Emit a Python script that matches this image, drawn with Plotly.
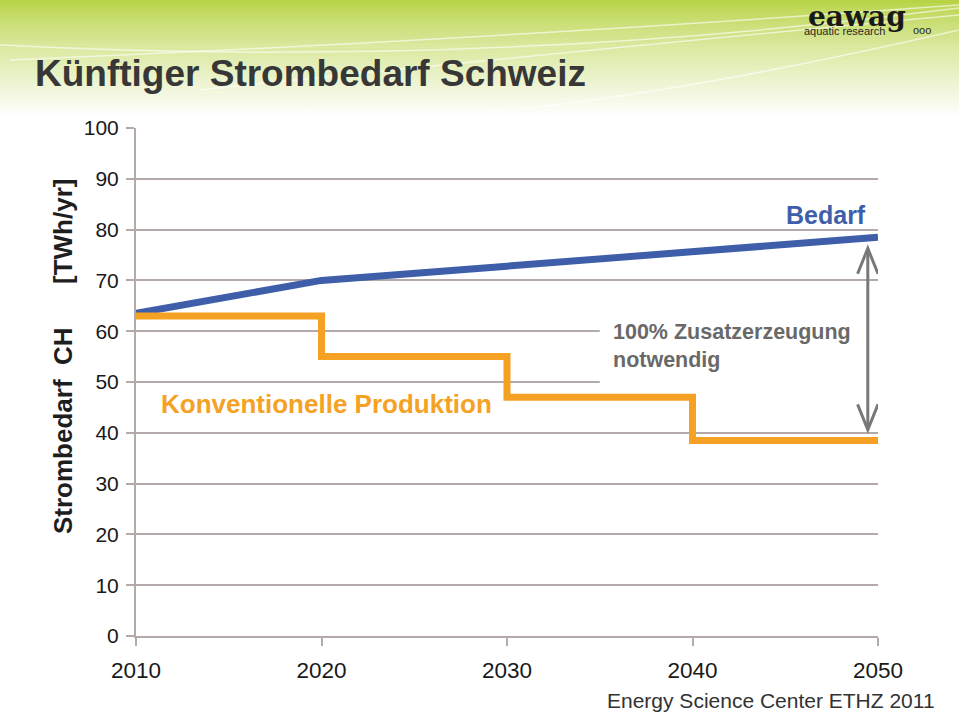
import plotly.graph_objects as go

# ---- data ----
years = [2010, 2020, 2030, 2040, 2050]
bedarf = [63.5, 70.0, 72.8, 75.7, 78.5]          # demand, TWh/yr
produktion = [63.0, 55.0, 47.0, 38.5, 38.5]      # conventional production (step)
y_ticks = [0, 10, 20, 30, 40, 50, 60, 70, 80, 90, 100]
x_ticks = [2010, 2020, 2030, 2040, 2050]

BLUE = "rgb(62,94,170)"
ORANGE = "rgb(245,162,36)"
GRID = "rgb(180,170,170)"
GRAY_TXT = "rgb(105,105,105)"

W, H = 959, 713
L, R, T, B = 136, 81, 128, 77
PW, PH = W - L - R, H - T - B


def px(x):
    return (x - L) / PW


def py(y):
    return (H - B - y) / PH


fig = go.Figure()

fig.add_trace(go.Scatter(x=years, y=bedarf, mode="lines",
                         line=dict(color=BLUE, width=7), hoverinfo="skip"))
fig.add_trace(go.Scatter(x=years, y=produktion, mode="lines",
                         line=dict(color=ORANGE, width=7, shape="hv"), hoverinfo="skip"))

shapes = []
# header gradient (stripes)
top_col = (184, 212, 70)
n = 40
hdr_h = 118
for i in range(n):
    y0 = hdr_h * i / n
    y1 = hdr_h * (i + 1) / n + 0.6
    t = (i / (n - 1)) ** 0.8
    c = tuple(int(top_col[k] + (255 - top_col[k]) * t) for k in range(3))
    shapes.append(dict(type="rect", xref="paper", yref="paper",
                       x0=px(0), x1=px(W), y0=py(y1), y1=py(y0),
                       fillcolor="rgb(%d,%d,%d)" % c, line=dict(width=0), layer="below"))
# white swooshes in header
for (a, b, c, d) in [(10, 60, 40, 5), (0, 45, 70, 8), (200, 90, 60, 15), (300, 110, 140, 30)]:
    shapes.append(dict(type="path", xref="paper", yref="paper",
                       path="M %f,%f Q %f,%f %f,%f" % (px(a), py(b), px(480), py(c), px(W), py(d)),
                       line=dict(color="rgba(255,255,255,0.6)", width=1.5), layer="below"))

# white box behind the annotation text
shapes.append(dict(type="rect", xref="x", yref="y",
                   x0=2035.0, x1=2051.5, y0=48.4, y1=66.0,
                   fillcolor="white", line=dict(width=0), layer="above"))

# double arrow between demand and production in 2050
ax_x = years[-1] - 0.55
top = bedarf[-1] - 2.2
bot = produktion[-1] + 2.1
ARW = "rgb(120,120,120)"
shapes.append(dict(type="line", xref="x", yref="y", x0=ax_x, x1=ax_x, y0=bot, y1=top,
                   line=dict(color=ARW, width=3), layer="above"))
shapes.append(dict(type="path", xref="x", yref="y",
                   path="M %f,%f L %f,%f L %f,%f" % (ax_x - 0.55, top - 5.0, ax_x, top, ax_x + 0.55, top - 5.0),
                   line=dict(color=ARW, width=3), layer="above"))
shapes.append(dict(type="path", xref="x", yref="y",
                   path="M %f,%f L %f,%f L %f,%f" % (ax_x - 0.55, bot + 5.0, ax_x, bot, ax_x + 0.55, bot + 5.0),
                   line=dict(color=ARW, width=3), layer="above"))

annotations = [
    dict(text="<b>Künftiger Strombedarf Schweiz</b>", xref="paper", yref="paper",
         x=px(33), y=py(74), xanchor="left", yanchor="middle", showarrow=False,
         font=dict(family="Arial", size=37, color="rgb(55,55,55)")),
    dict(text="<b>eawag</b>", xref="paper", yref="paper", x=px(857), y=py(17),
         xanchor="center", yanchor="middle", showarrow=False,
         font=dict(family="DejaVu Serif", size=28, color="rgb(25,25,25)")),
    dict(text="aquatic research", xref="paper", yref="paper", x=px(887), y=py(31),
         xanchor="right", yanchor="middle", showarrow=False,
         font=dict(family="Arial", size=11, color="rgb(40,40,40)")),
    dict(text="ooo", xref="paper", yref="paper", x=px(922), y=py(30),
         xanchor="center", yanchor="middle", showarrow=False,
         font=dict(family="Arial", size=11, color="rgb(40,40,40)")),
    dict(text="<b>Strombedarf  CH</b>", xref="paper", yref="paper", x=px(63), y=py(431),
         xanchor="center", yanchor="middle", textangle=-90, showarrow=False,
         font=dict(family="Arial", size=26, color="rgb(30,30,30)")),
    dict(text="<b>[TWh/yr]</b>", xref="paper", yref="paper", x=px(63), y=py(232),
         xanchor="center", yanchor="middle", textangle=-90, showarrow=False,
         font=dict(family="Arial", size=26, color="rgb(30,30,30)")),
    dict(text="<b>Bedarf</b>", x=years[-1] - 0.55, y=82.9, xanchor="right", yanchor="middle",
         showarrow=False, font=dict(family="Arial", size=25, color=BLUE)),
    dict(text="<b>Konventionelle Produktion</b>", x=2011.25, y=45.6, xanchor="left", yanchor="middle",
         showarrow=False, font=dict(family="Arial", size=26, color=ORANGE)),
    dict(text="<b>100% Zusatzerzeugung<br>notwendig</b>", x=2035.6, y=57.1, xanchor="left", yanchor="middle",
         align="left", showarrow=False,
         font=dict(family="Arial", size=21.5, color=GRAY_TXT)),
    dict(text="Energy Science Center ETHZ 2011", xref="paper", yref="paper", x=px(937), y=py(700),
         xanchor="right", yanchor="middle", showarrow=False,
         font=dict(family="Arial", size=21, color="rgb(50,50,50)")),
]

fig.update_layout(
    width=W, height=H,
    margin=dict(l=L, r=R, t=T, b=B),
    paper_bgcolor="white", plot_bgcolor="white",
    showlegend=False,
    shapes=shapes, annotations=annotations,
    xaxis=dict(range=[2010, 2050], tickvals=x_ticks, ticktext=[str(v) for v in x_ticks],
               showgrid=False, zeroline=False, showline=True, linecolor=GRID, linewidth=2,
               ticks="outside", ticklen=8, tickwidth=2, tickcolor=GRID, ticklabelstandoff=5,
               tickfont=dict(family="Arial", size=22.5, color="rgb(25,25,25)")),
    yaxis=dict(range=[0, 100], tickvals=y_ticks, showgrid=True, gridcolor=GRID, gridwidth=2,
               zeroline=False, showline=True, linecolor=GRID, linewidth=2,
               ticks="outside", ticklen=8, tickwidth=2, tickcolor=GRID, ticklabelstandoff=3,
               tickfont=dict(family="Arial", size=21, color="rgb(25,25,25)")),
)

fig.write_html("out.html", config={"displayModeBar": False},
               post_script="document.body.style.margin='0';")
